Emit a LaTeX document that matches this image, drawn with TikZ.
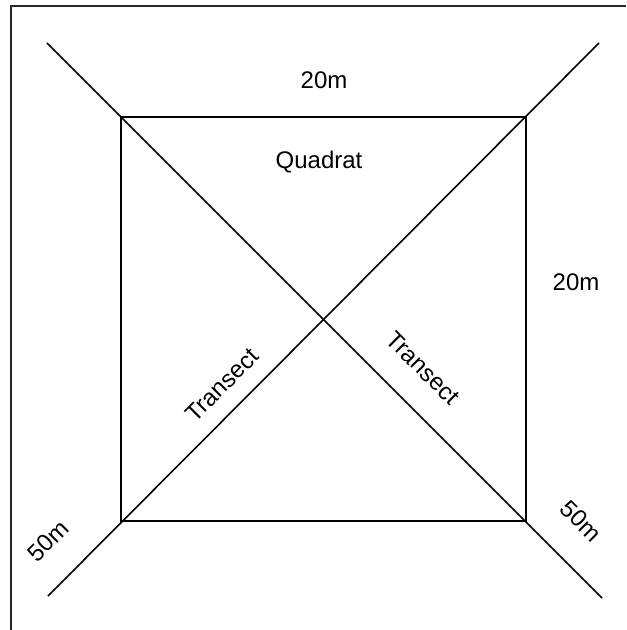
\documentclass[tikz,border=0pt]{standalone}
\usepackage{fontspec}
\setmainfont{Liberation Sans}
\usetikzlibrary{positioning}

\begin{document}
\begin{tikzpicture}[x=0.5pt, y=-0.5pt,
  frame/.style={line width=1pt, black!85},
  edge/.style={line width=0.8pt, black},
  lab/.style={font=\fontsize{12}{14}\selectfont, inner sep=0}]
\useasboundingbox (0,0) rectangle (626,630);
% frame (top and left only)
\coordinate (fTR) at (626,6);
\coordinate (fTL) at (11,6);
\coordinate (fBL) at (11,630);
\draw[frame] (fTR) -- (fTL) -- (fBL);
% quadrat corners
\coordinate (qTL) at (121,117);
\coordinate (qTR) at (526,117);
\coordinate (qBR) at (526,521);
\coordinate (qBL) at (121,521);
\draw[edge] (qTL) -- (qTR) -- (qBR) -- (qBL) -- cycle;
% transect ends
\coordinate (tA0) at (47,43);
\coordinate (tA1) at (602,598);
\coordinate (tB0) at (599,43);
\coordinate (tB1) at (48,596);
\draw[edge] (tA0) -- (tA1);
\draw[edge] (tB0) -- (tB1);
% labels
\node[lab] (topLen)   at (324,80)  {20m};
\node[lab] (quadLab)  at (319,162) {Quadrat};
\node[lab] (sideLen)  at (576,282) {20m};
\node[lab, rotate=45]  (transL) at (222,385) {Transect};
\node[lab, rotate=-45] (transR) at (423,368) {Transect};
\node[lab, rotate=45]  (lenL)   at (48,541)  {50m};
\node[lab, rotate=-45] (lenR)   at (581,521) {50m};
\end{tikzpicture}
\end{document}
